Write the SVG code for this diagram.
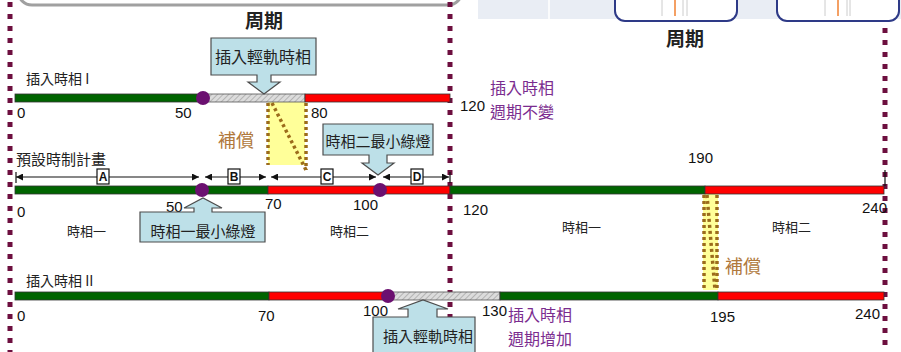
<svg xmlns="http://www.w3.org/2000/svg" width="901" height="352" viewBox="0 0 901 352">
<style>
.cjk{font-family:"Noto Sans CJK TC","Noto Sans CJK SC",sans-serif;fill:#222}
.num{font-family:"Liberation Sans",Arial,sans-serif;font-size:15px;fill:#111}
.ph{font-size:13px}
.purple{font-size:16px;fill:#7b2c8f}
.comp{font-size:18px;fill:#b0783c}
.call{fill:#bde0e8;stroke:#4d4d4d;stroke-width:1.2}
.green{fill:#006400;stroke:#333;stroke-width:0.8}
.red{fill:#ff0000;stroke:#333;stroke-width:0.8}
.hatch{fill:url(#hp);stroke:#555;stroke-width:0.8}
.dot{fill:#6b1070}
.maroon{stroke:#6d0f3f;stroke-width:5;stroke-dasharray:5 7;fill:none}
.brown{stroke:#9b6b1b;stroke-width:3.5;stroke-dasharray:3 3;fill:none}
.yellow{fill:#ffff99}
.dim{stroke:#111;stroke-width:1.2;fill:none;marker-start:url(#ah);marker-end:url(#ah)}
.lbox{fill:#fff;stroke:#111;stroke-width:1.2}
.ltxt{font-family:"Liberation Sans",Arial,sans-serif;font-size:12px;font-weight:bold;fill:#111;text-anchor:middle}
</style>
<defs>
<pattern id="hp" width="4" height="4" patternUnits="userSpaceOnUse" patternTransform="rotate(45)">
<rect width="4" height="4" fill="#dcdcdc"/>
<line x1="0" y1="0" x2="0" y2="4" stroke="#8a8a8a" stroke-width="1"/>
</pattern>
<marker id="ah" viewBox="0 0 10 10" refX="10" refY="5" markerWidth="7" markerHeight="7" orient="auto-start-reverse" markerUnits="userSpaceOnUse">
<path d="M0,0 L10,5 L0,10 Z" fill="#111"/>
</marker>
</defs>
<rect width="901" height="352" fill="#fff"/>

<g id="header-left">
<rect x="18" y="-40" width="444" height="45" rx="14" fill="#fff" stroke="#a0a0a0" stroke-width="3"/>
</g>
<g id="header-right">
<rect x="478" y="0" width="423" height="19" fill="#e9edf4"/>
<line x1="549" y1="0" x2="549" y2="19" stroke="#fff" stroke-width="1.5"/>
<rect x="615" y="-15" width="122" height="36" rx="10" fill="#fff" stroke="#2e3a87" stroke-width="2"/>
<line x1="662" y1="0" x2="662" y2="16" stroke="#ccc"/>
<line x1="675" y1="0" x2="675" y2="16" stroke="#f08030" stroke-width="1.5"/>
<line x1="683" y1="0" x2="683" y2="16" stroke="#ccc"/>
<line x1="687" y1="0" x2="687" y2="16" stroke="#ccc"/>
<rect x="777" y="-15" width="122" height="36" rx="10" fill="#fff" stroke="#2e3a87" stroke-width="2"/>
<line x1="825" y1="0" x2="825" y2="16" stroke="#ccc"/>
<line x1="838" y1="0" x2="838" y2="16" stroke="#f08030" stroke-width="1.5"/>
<line x1="847" y1="0" x2="847" y2="16" stroke="#ccc"/>
<line x1="850" y1="0" x2="850" y2="16" stroke="#ccc"/>
</g>

<g id="titles">
<text class="cjk" x="264" y="28" font-size="19" font-weight="bold" text-anchor="middle">周期</text>
<text class="cjk" x="685" y="46" font-size="19" font-weight="bold" text-anchor="middle">周期</text>
</g>

<g id="compensation">
<rect class="yellow" x="268" y="102" width="37" height="63"/>
<line class="brown" x1="268" y1="103" x2="268" y2="165"/>
<line class="brown" x1="306" y1="103" x2="306" y2="170"/>
<line class="brown" x1="272" y1="103" x2="306" y2="170"/>
<text class="cjk comp" x="218" y="147">補償</text>
<rect class="yellow" x="703" y="194" width="15" height="96"/>
<line class="brown" x1="704" y1="195" x2="704" y2="290"/>
<line class="brown" x1="717" y1="195" x2="717" y2="290"/>
<line class="brown" x1="707" y1="195" x2="715" y2="290"/>
<text class="cjk comp" x="725" y="273">補償</text>
</g>

<g id="cycle-lines">
<line class="maroon" x1="10" y1="2" x2="10" y2="352"/>
<line class="maroon" x1="450" y1="2" x2="450" y2="352"/>
<line class="maroon" x1="885" y1="28" x2="885" y2="352"/>
</g>

<g id="row1">
<text class="cjk" x="26" y="84" font-size="14">插入時相 I</text>
<rect class="green" x="15" y="94" width="188" height="8"/>
<rect class="hatch" x="203" y="94" width="102" height="8"/>
<rect class="red" x="305" y="94" width="145" height="8"/>
<circle class="dot" cx="203" cy="98" r="7"/>
<text class="num" x="17" y="118">0</text>
<text class="num" x="175" y="118">50</text>
<text class="num" x="311" y="118">80</text>
<text class="num" x="460" y="111">120</text>
<text class="cjk purple" x="490" y="94">插入時相</text>
<text class="cjk purple" x="490" y="118">週期不變</text>
</g>

<g id="callout-rail-top">
<path class="call" d="M211,38 H316 V75 H271 V82 H280 L264,94 L248,82 H257 V75 H211 Z"/>
<text class="cjk" x="263" y="63" font-size="16" text-anchor="middle">插入輕軌時相</text>
</g>

<g id="row2">
<text class="cjk" x="16" y="165" font-size="15">預設時制計畫</text>
<rect class="green" x="15" y="186" width="253" height="8"/>
<rect class="red" x="268" y="186" width="182" height="8"/>
<rect class="green" x="450" y="186" width="255" height="8"/>
<rect class="red" x="705" y="186" width="179" height="8"/>
<circle class="dot" cx="202" cy="190" r="7"/>
<circle class="dot" cx="380" cy="190" r="7"/>
<text class="num" x="17" y="217">0</text>
<text class="num" x="166" y="212">50</text>
<text class="num" x="265" y="209">70</text>
<text class="num" x="353" y="210">100</text>
<text class="num" x="463" y="215">120</text>
<text class="num" x="688" y="163">190</text>
<text class="num" x="862" y="213">240</text>
<text class="cjk ph" x="67" y="236">時相一</text>
<text class="cjk ph" x="330" y="236">時相二</text>
<text class="cjk ph" x="562" y="232">時相一</text>
<text class="cjk ph" x="772" y="232">時相二</text>
</g>

<g id="connectors">
<line x1="16" y1="172" x2="16" y2="183" stroke="#111" stroke-width="1.2"/>
<line x1="450" y1="172" x2="450" y2="183" stroke="#111" stroke-width="1.2"/>
<line x1="885" y1="170" x2="885" y2="186" stroke="#111" stroke-width="1.2"/>
<line class="dim" x1="16" y1="177" x2="199" y2="177"/>
<line class="dim" x1="205" y1="177" x2="266" y2="177"/>
<line class="dim" x1="271" y1="177" x2="376" y2="177"/>
<line class="dim" x1="383" y1="177" x2="449" y2="177"/>
<rect class="lbox" x="97" y="169" width="12" height="15"/>
<text class="ltxt" x="103" y="181">A</text>
<rect class="lbox" x="228" y="169" width="12" height="15"/>
<text class="ltxt" x="234" y="181">B</text>
<rect class="lbox" x="321" y="169" width="12" height="15"/>
<text class="ltxt" x="327" y="181">C</text>
<rect class="lbox" x="411" y="169" width="12" height="15"/>
<text class="ltxt" x="417" y="181">D</text>
</g>

<g id="callout-green2">
<path class="call" d="M323,124 H433 V155 H387 V163 H394 L378,175 L362,163 H369 V155 H323 Z"/>
<text class="cjk" x="378" y="147" font-size="15" text-anchor="middle">時相二最小綠燈</text>
</g>

<g id="callout-green1">
<path class="call" d="M140,212 H194 V208 H184 L203,198 L222,208 H212 V212 H265 V242 H140 Z"/>
<text class="cjk" x="203" y="237" font-size="15" text-anchor="middle">時相一最小綠燈</text>
</g>

<g id="row3">
<text class="cjk" x="26" y="286" font-size="14">插入時相 II</text>
<rect class="green" x="15" y="292" width="254" height="8"/>
<rect class="red" x="269" y="292" width="119" height="8"/>
<rect class="hatch" x="388" y="292" width="112" height="8"/>
<rect class="green" x="500" y="292" width="218" height="8"/>
<rect class="red" x="718" y="292" width="166" height="8"/>
<circle class="dot" cx="388" cy="296" r="7"/>
<text class="num" x="17" y="321">0</text>
<text class="num" x="258" y="321">70</text>
<text class="num" x="363" y="316">100</text>
<text class="num" x="482" y="316">130</text>
<text class="num" x="710" y="322">195</text>
<text class="num" x="855" y="319">240</text>
<text class="cjk purple" x="508" y="321">插入時相</text>
<text class="cjk purple" x="508" y="345">週期增加</text>
</g>

<g id="callout-rail-bottom">
<path class="call" d="M373,317 H408 V309 H398 L423,300 L448,309 H437 V317 H475 V360 H373 Z"/>
<text class="cjk" x="428" y="342" font-size="15" text-anchor="middle">插入輕軌時相</text>
</g>
</svg>
